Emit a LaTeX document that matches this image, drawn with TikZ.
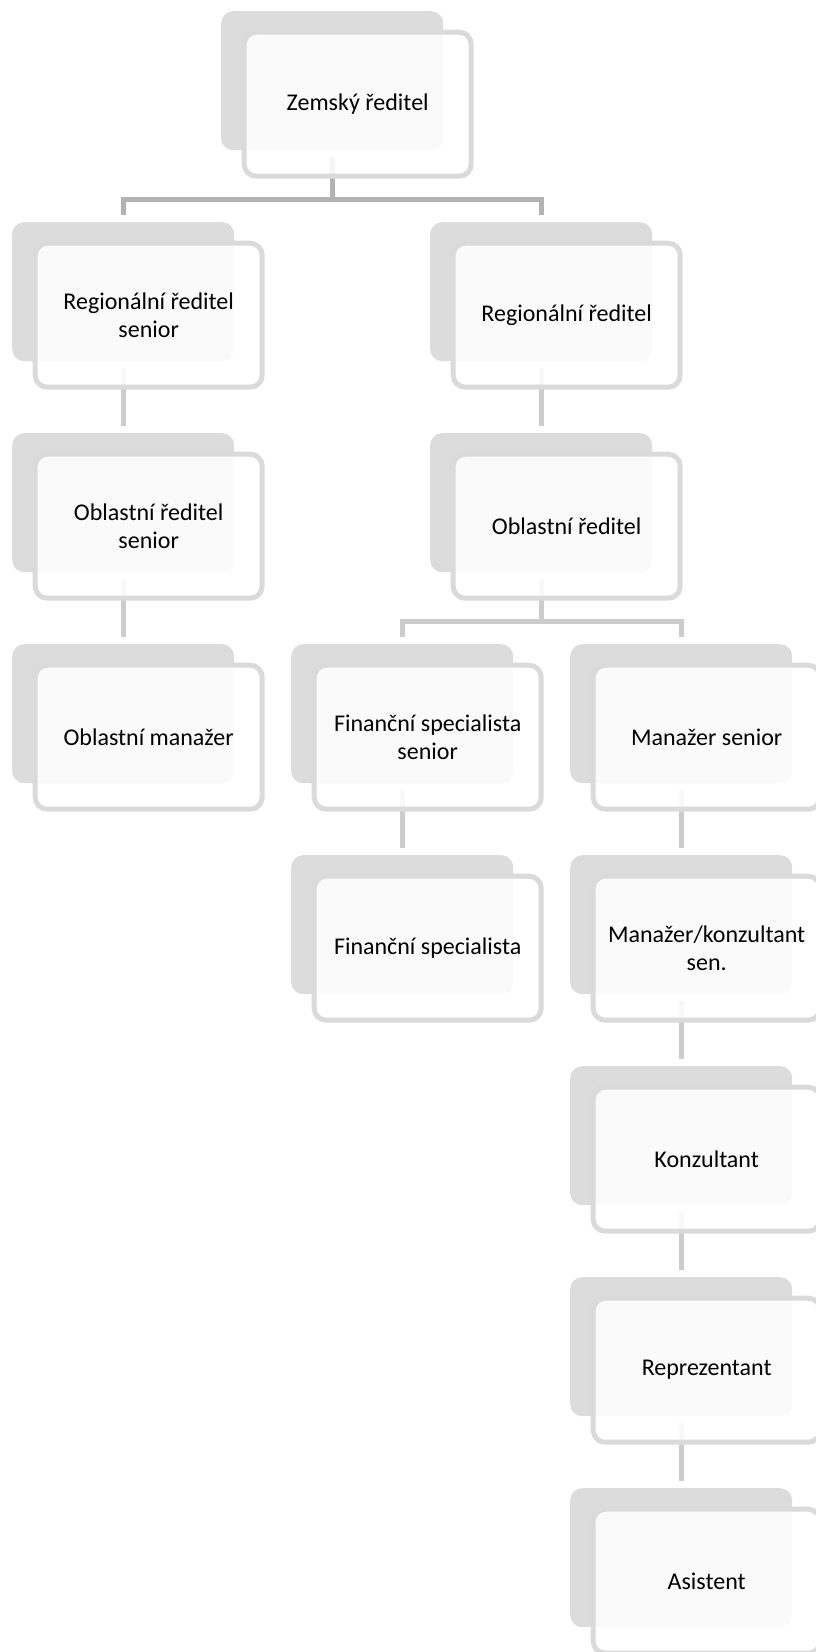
\documentclass[tikz,border=0pt]{standalone}
\usepackage{fontspec}
\setmainfont{Carlito}
\usetikzlibrary{calc}
\definecolor{shadegray}{HTML}{DCDCDC}
\definecolor{framegray}{HTML}{DADADA}
\definecolor{busdark}{HTML}{B2B2B2}
\definecolor{buslight}{HTML}{CCCCCC}
\begin{document}
\begin{tikzpicture}[x=1pt,y=-1pt,
  backbox/.style={anchor=north west, fill=shadegray, rounded corners=12pt,
    minimum width=222pt, minimum height=139pt, inner sep=0pt},
  cardbox/.style={draw=framegray, line width=5pt, fill=white, fill opacity=0.87,
    text opacity=1, rounded corners=12pt, minimum width=227pt,
    minimum height=144pt, inner sep=0pt, align=center,
    font=\fontsize{24}{28.5}\selectfont},
  link/.style={line width=5pt, shorten <=7pt, shorten >=7pt},
]
\useasboundingbox (0,0) rectangle (815,1652);

% shaded back plates
\node[backbox] (zg)   at (221,11)   {};
\node[backbox] (rsg)  at (12,222)   {};
\node[backbox] (rg)   at (430,222)  {};
\node[backbox] (osg)  at (12,433)   {};
\node[backbox] (og)   at (430,433)  {};
\node[backbox] (omg)  at (12,644)   {};
\node[backbox] (fsg)  at (291,644)  {};
\node[backbox] (msg)  at (570,644)  {};
\node[backbox] (fg)   at (291,855)  {};
\node[backbox] (mkg)  at (570,855)  {};
\node[backbox] (kg)   at (570,1066) {};
\node[backbox] (repg) at (570,1277) {};
\node[backbox] (ag)   at (570,1488) {};

% connectors
\draw[link, busdark] (zg.south) -- ++(0,49) -| (rsg.north);
\draw[link, busdark] (zg.south) -- ++(0,49) -| (rg.north);
\draw[link, buslight] (rsg.south) -- (osg.north);
\draw[link, buslight] (osg.south) -- (omg.north);
\draw[link, buslight] (rg.south) -- (og.north);
\draw[link, buslight] (og.south) -- ++(0,49) -| (fsg.north);
\draw[link, buslight] (og.south) -- ++(0,49) -| (msg.north);
\draw[link, buslight] (fsg.south) -- (fg.north);
\draw[link, buslight] (msg.south) -- (mkg.north);
\draw[link, buslight] (mkg.south) -- (kg.north);
\draw[link, buslight] (kg.south) -- (repg.north);
\draw[link, buslight] (repg.south) -- (ag.north);

% front cards with titles
\node[cardbox] (z)   at ($(zg.center)+(25.5,23.5)$)   {Zemský ředitel};
\node[cardbox] (rs)  at ($(rsg.center)+(25.5,23.5)$)  {Regionální ředitel\\senior};
\node[cardbox] (r)   at ($(rg.center)+(25.5,23.5)$)   {Regionální ředitel};
\node[cardbox] (os)  at ($(osg.center)+(25.5,23.5)$)  {Oblastní ředitel\\senior};
\node[cardbox] (o)   at ($(og.center)+(25.5,23.5)$)   {Oblastní ředitel};
\node[cardbox] (om)  at ($(omg.center)+(25.5,23.5)$)  {Oblastní manažer};
\node[cardbox] (fs)  at ($(fsg.center)+(25.5,23.5)$)  {Finanční specialista\\senior};
\node[cardbox] (ms)  at ($(msg.center)+(25.5,23.5)$)  {Manažer senior};
\node[cardbox] (f)   at ($(fg.center)+(25.5,23.5)$)   {Finanční specialista};
\node[cardbox] (mk)  at ($(mkg.center)+(25.5,23.5)$)  {Manažer/konzultant\\sen.};
\node[cardbox] (k)   at ($(kg.center)+(25.5,23.5)$)   {Konzultant};
\node[cardbox] (rep) at ($(repg.center)+(25.5,23.5)$) {Reprezentant};
\node[cardbox] (a)   at ($(ag.center)+(25.5,23.5)$)   {Asistent};
\end{tikzpicture}
\end{document}
